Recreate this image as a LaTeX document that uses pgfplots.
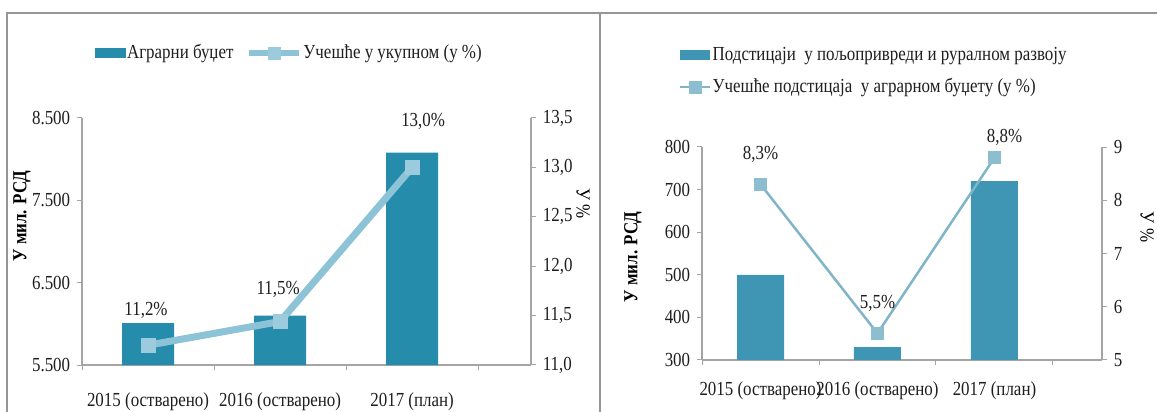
\documentclass[border=0pt]{standalone}
\usepackage{fontspec}
\setmainfont{Liberation Serif}[FakeStretch=0.85]
\usepackage{pgfplots}
\usepackage{pgfplotstable}
\pgfplotsset{compat=1.18}

\definecolor{barA}{RGB}{38,140,172}
\definecolor{barB}{RGB}{62,150,180}
\definecolor{lineA}{RGB}{140,195,215}
\definecolor{markA}{RGB}{155,203,220}
\definecolor{lineB}{RGB}{128,180,200}
\definecolor{markB}{RGB}{140,190,208}
\definecolor{axgray}{RGB}{165,165,165}
\definecolor{framegray}{RGB}{150,150,150}
\definecolor{txt}{RGB}{30,30,30}

% left panel: agrarian budget (mil. RSD) and its share (%)
\pgfplotstableread{
x y
0 6010
1 6100
2 8080
}\budgetA
\pgfplotstableread{
x y lab dx dy
0 11.2 11,2 -2 35
1 11.44 11,5 -2 32
2 13.0 13,0 11 46
}\shareA
% right panel: subsidies (mil. RSD) and their share (%)
\pgfplotstableread{
x y
0 500
1 330
2 720
}\budgetB
\pgfplotstableread{
x y lab dx dy
0 8.3 8,3 0 30
1 5.5 5,5 0 30
2 8.8 8,8 10 20
}\shareB

\pgfplotsset{
  panel/.style={
    anchor=south west, scale only axis,
    xmin=-0.5,
    axis line style={-, axgray, line width=1.2bp},
    tick style={axgray, line width=1bp},
    tick align=outside, major tick length=5bp,
    tick label style={text=txt},
    /pgf/number format/assume math mode=true,
    scaled y ticks=false,
    clip=false,
  },
  shareplot/.style={
    nodes near coords={\pgfplotspointmeta\%},
    point meta=explicit symbolic,
    visualization depends on={\thisrow{dx}\as\dxoff},
    visualization depends on={\thisrow{dy}\as\dyoff},
    every node near coord/.append style={anchor=center, xshift=\dxoff bp, yshift=\dyoff bp, text=txt},
  },
}

\begin{document}
\fontsize{20}{24}\selectfont
\begin{tikzpicture}
\useasboundingbox (0bp,0bp) rectangle (1157bp,412bp);
\draw[framegray, line width=2bp] (7bp,0bp) -- (7bp,399bp) -- (1157bp,399bp);
\draw[framegray, line width=2bp] (600bp,0bp) -- (600bp,399bp);

% ---------- left panel ----------
\begin{axis}[panel,
  at={(82bp,47bp)}, width=449bp, height=247bp,
  xmax=2.9, ymin=5500, ymax=8500,
  axis x line*=bottom, axis y line*=left,
  xtick={-0.5,0.5,1.5,2.5}, xticklabels={},
  extra x ticks={0,1,2},
  extra x tick labels={2015 (остварено),2016 (остварено),2017 (план)},
  extra x tick style={major tick length=0pt, tick label style={anchor=center, yshift=-37bp}},
  ytick={5500,6500,7500,8500},
  yticklabel style={/pgf/number format/.cd, 1000 sep={.}},
  every axis y label/.style={at={(axis description cs:-0.134,0.603)}, anchor=center, rotate=90, font=\bfseries},
  ylabel={У мил. РСД},
  legend columns=2, legend cell align=left,
  legend style={at={(axis description cs:0.022,1.263)}, anchor=west, draw=none, fill=none,
    nodes={inner sep=1bp, text=txt}, /tikz/every even column/.append style={column sep=12bp}},
]
\addplot[ybar, bar width=52bp, bar shift=0pt, fill=barA, draw=none,
  legend image code/.code={\fill[barA] (0bp,-5bp) rectangle (31bp,5bp);}]
  table[x=x, y=y]{\budgetA};
\addlegendentry{Аграрни буџет}
\addlegendimage{legend image code/.code={
  \draw[lineA, line width=6bp] (0bp,0bp) -- (50bp,0bp);
  \fill[markA] (19bp,-6bp) rectangle (31bp,6bp);}}
\addlegendentry{Учешће у укупном (у \%)}
\end{axis}

\begin{axis}[panel,
  at={(82bp,47bp)}, width=449bp, height=247bp,
  xmax=2.9, ymin=11, ymax=13.5,
  axis x line=none, axis y line*=right,
  ytick={11,11.5,12,12.5,13,13.5},
  yticklabel style={/pgf/number format/.cd, fixed, fixed zerofill, precision=1, use comma},
  every axis y label/.style={at={(axis description cs:1.116,0.652)}, anchor=center, rotate=-90},
  ylabel={У \%},
]
\addplot[shareplot, lineA, line width=7bp, mark=square*, mark size=7bp,
  mark options={fill=markA, draw=markA, line width=0pt}]
  table[x=x, y=y, meta=lab]{\shareA};
\end{axis}

% ---------- right panel ----------
\begin{axis}[panel,
  at={(702bp,52bp)}, width=400bp, height=213bp,
  xmax=2.919, ymin=300, ymax=800,
  axis x line*=bottom, axis y line*=left,
  xtick={-0.5,0.5,1.5,2.5}, xticklabels={},
  extra x ticks={0,1,2},
  extra x tick labels={2015 (остварено),2016 (остварено),2017 (план)},
  extra x tick style={major tick length=0pt, tick label style={anchor=center, yshift=-31bp}},
  ytick={300,400,...,800},
  every axis y label/.style={at={(axis description cs:-0.1725,0.484)}, anchor=center, rotate=90, font=\bfseries},
  ylabel={У мил. РСД},
  legend columns=1, legend cell align=left,
  legend style={at={(axis description cs:-0.065,1.354)}, anchor=west, draw=none, fill=none,
    nodes={inner sep=1bp, text=txt}, row sep=13bp},
]
\addplot[ybar, bar width=47bp, bar shift=0pt, fill=barB, draw=none,
  legend image code/.code={\fill[barB] (0bp,-5bp) rectangle (30bp,5bp);}]
  table[x=x, y=y]{\budgetB};
\addlegendentry{Подстицаји\ \ у пољопривреди и руралном развоју}
\addlegendimage{legend image code/.code={
  \draw[lineB, line width=2.5bp] (0bp,0bp) -- (30bp,0bp);
  \fill[markB] (9bp,-6bp) rectangle (21bp,6bp);}}
\addlegendentry{Учешће подстицаја\ \ у аграрном буџету (у \%)}
\end{axis}

\begin{axis}[panel,
  at={(702bp,52bp)}, width=400bp, height=213bp,
  xmax=2.919, ymin=5, ymax=9,
  axis x line=none, axis y line*=right,
  ytick={5,6,7,8,9},
  every axis y label/.style={at={(axis description cs:1.1125,0.624)}, anchor=center, rotate=-90},
  ylabel={У \%},
]
\addplot[shareplot, lineB, line width=2.5bp, mark=square*, mark size=6bp,
  mark options={fill=markB, draw=markB, line width=0pt}]
  table[x=x, y=y, meta=lab]{\shareB};
\end{axis}
\end{tikzpicture}
\end{document}
